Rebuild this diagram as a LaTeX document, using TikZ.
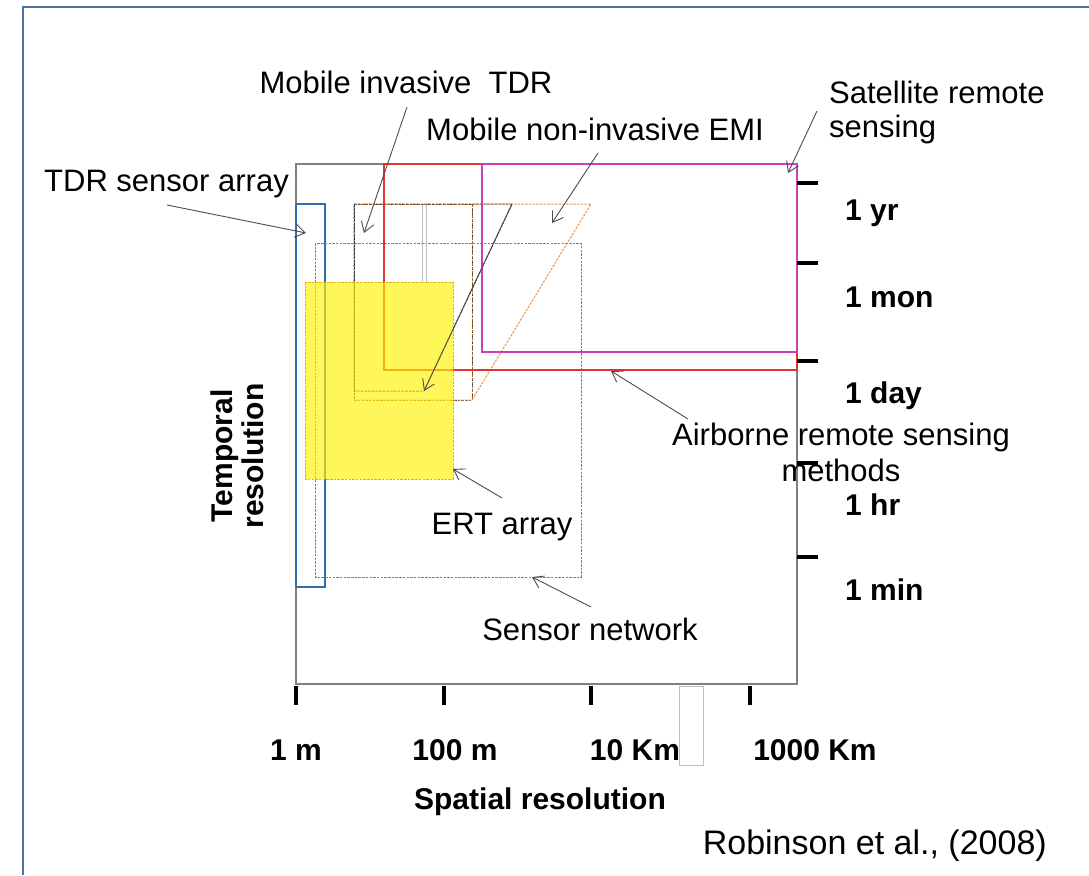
\documentclass[tikz,border=0pt]{standalone}
\usepackage{fontspec}
\setmainfont{Liberation Sans}
\usetikzlibrary{arrows.meta}
\definecolor{framec}{HTML}{4A73A6}
\definecolor{boxgray}{HTML}{808080}
\definecolor{redc}{HTML}{E03434}
\definecolor{magc}{HTML}{CC3DB8}
\definecolor{bluec}{HTML}{2E6FAE}
\definecolor{bluedash}{HTML}{5A86B8}
\definecolor{orangec}{HTML}{E8954E}
\definecolor{brownc}{HTML}{A0602A}
\definecolor{ertedge}{HTML}{E0B020}
\begin{document}
\begin{tikzpicture}[x=1pt,y=-1pt,
  lbl/.style={font=\fontsize{31}{36}\selectfont, inner sep=0pt},
  blbl/.style={font=\bfseries\fontsize{30}{31}\selectfont, inner sep=0pt},
  ptr/.style={draw=black!70, line width=0.9pt, -{Straight Barb[length=10pt,width=13pt,line width=0.9pt]}},
  tickmark/.style={line width=4pt},
  fine/.style={dash pattern=on 2.5pt off 1.2pt, line width=1pt}]
\useasboundingbox (0,0) rectangle (1089,875);
% outer frame
\draw[framec, line width=2.2pt] (1089,7) -- (23,7) -- (23,875);
% main plot box
\draw[boxgray, line width=1.3pt] (296,164) rectangle (797,684);
% TDR sensor array
\draw[bluec, line width=1.3pt] (296,204) rectangle (325,587);
% sensor network
\draw[bluedash, fine] (315,243) rectangle (581,577);
% thin gray bar
\draw[black!25, line width=1pt] (422,282) -- (422,204) -- (426,204) -- (426,282);
% mobile invasive TDR
\draw[black!80, fine] (354,204) rectangle (472,400);
\draw[brownc, fine] (472,204) -- (472,400);
\draw[black!75, fine] (354,204) -- (512,204) -- (424,391) -- (354,391) -- cycle;
% mobile non-invasive EMI
\draw[orangec, fine] (354,400) -- (472,400) -- (591,204) -- (472,204);
\draw[brownc, fine] (472,204) -- (354,204);
% airborne
\draw[redc, line width=1.3pt] (384,164) rectangle (797,370);
% satellite
\draw[magc, line width=1.3pt] (482,164) rectangle (797,352);
% ERT array
\fill[yellow, fill opacity=0.65] (305,282) rectangle (453,479);
\draw[ertedge, fine] (305,282) rectangle (453,479);
% small gray box under the axis
\draw[black!25, line width=1pt] (679,686) rectangle (703,765);
% ticks
\draw[tickmark] (797,183) -- (818,183);
\draw[tickmark] (797,263) -- (818,263);
\draw[tickmark] (797,361) -- (818,361);
\draw[tickmark] (797,463) -- (818,463);
\draw[tickmark] (797,557) -- (818,557);
\draw[tickmark] (296,686) -- (296,705);
\draw[tickmark] (444,686) -- (444,705);
\draw[tickmark] (591,686) -- (591,705);
\draw[tickmark] (750,686) -- (750,705);
% labels
\node[lbl, anchor=base] (lMIT) at (406,93) {Mobile invasive\ \ TDR};
\node[lbl, anchor=base west] (lEMI) at (426,140) {Mobile non-invasive EMI};
\node[lbl, anchor=base west] (lSat1) at (829,103) {Satellite remote};
\node[lbl, anchor=base west] (lSat2) at (829,137) {sensing};
\node[lbl, anchor=base west] (lTDR) at (44,191) {TDR sensor array};
\node[lbl, anchor=base] (lAir1) at (841,445) {Airborne remote sensing};
\node[lbl, anchor=base] (lAir2) at (841,481) {methods};
\node[lbl, anchor=base] (lERT) at (502,534) {ERT array};
\node[lbl, anchor=base] (lSN) at (590,640) {Sensor network};
\node[inner sep=0pt, font=\fontsize{34}{40}\selectfont, anchor=base east] (lRob) at (1047,854) {Robinson et al., (2008)};
\node[blbl, anchor=base west] (t1) at (845,220) {1 yr};
\node[blbl, anchor=base west] (t2) at (845,307) {1 mon};
\node[blbl, anchor=base west] (t3) at (845,403) {1 day};
\node[blbl, anchor=base west] (t4) at (845,515) {1 hr};
\node[blbl, anchor=base west] (t5) at (845,600) {1 min};
\node[blbl, anchor=base] (s1) at (296,760) {1 m};
\node[blbl, anchor=base] (s2) at (455,760) {100 m};
\node[blbl, anchor=base] (s3) at (635,760) {10 Km};
\node[blbl, anchor=base] (s4) at (815,760) {1000 Km};
\node[blbl, anchor=base] (xax) at (540,809) {Spatial resolution};
\node[blbl, rotate=90, align=center] (yax) at (237,456) {Temporal\\resolution};
% arrow coordinates
\coordinate (aTDRs) at (167,205);  \coordinate (aTDRt) at (306,233);
\coordinate (aMITs) at (407,107);  \coordinate (aMITt) at (364,233);
\coordinate (aEMIs) at (598,153);  \coordinate (aEMIt) at (552,223);
\coordinate (aSATs) at (817,111);  \coordinate (aSATt) at (788,173);
\coordinate (aAIRs) at (688,419);  \coordinate (aAIRt) at (611,371);
\coordinate (aERTs) at (502,498);  \coordinate (aERTt) at (453,469);
\coordinate (aSNs) at (591,607);   \coordinate (aSNt) at (532,577);
\coordinate (aINs) at (512,204);   \coordinate (aINt) at (424,391);
\draw[ptr] (aTDRs) -- (aTDRt);
\draw[ptr] (aMITs) -- (aMITt);
\draw[ptr] (aEMIs) -- (aEMIt);
\draw[ptr] (aSATs) -- (aSATt);
\draw[ptr] (aAIRs) -- (aAIRt);
\draw[ptr] (aERTs) -- (aERTt);
\draw[ptr] (aSNs) -- (aSNt);
\draw[ptr] (aINs) -- (aINt);
\end{tikzpicture}
\end{document}
